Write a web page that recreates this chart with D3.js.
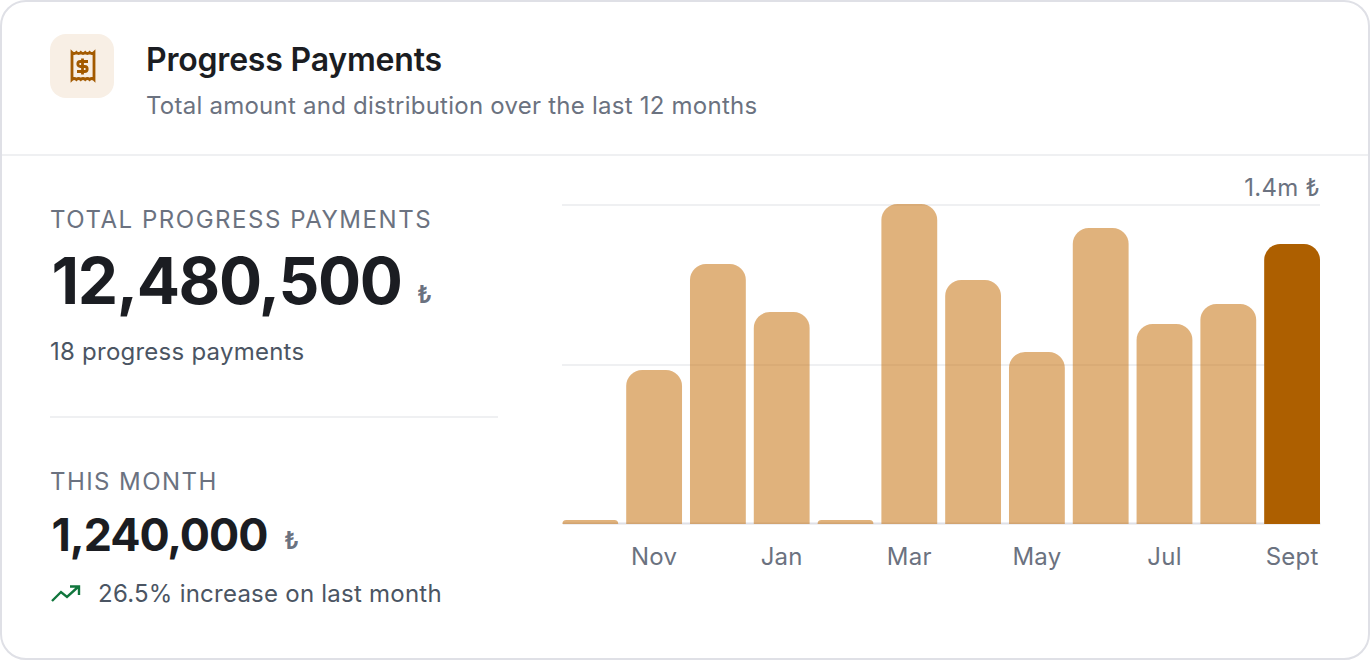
<!DOCTYPE html>
<html>
<head>
<meta charset="utf-8">
<script src="https://cdn.jsdelivr.net/npm/d3@7"></script>
<style>
  html, body { margin: 0; padding: 0; background: #fff; }
  svg { display: block; font-family: Inter, sans-serif; }
</style>
</head>
<body>
<svg id="chart" width="1370" height="660"></svg>
<script>
const months = ["Oct", "Nov", "Dec", "Jan", "Feb", "Mar", "Apr", "May", "Jun", "Jul", "Aug", "Sept"];
const amounts = [17000, 674000, 1137000, 927000, 17000, 1400000, 1067000, 752000, 1295000, 875000, 962000, 1225000];
const tickLabels = ["Nov", "Jan", "Mar", "May", "Jul", "Sept"];
const gridValues = [700000, 1400000];

const svg = d3.select("#chart");
const ink = "#1b1d22", gray = "#6b7280", slate = "#4b5563";
const brown = "#ad5f00", line = "#eff0f2";

// card
svg.append("rect")
  .attr("x", 1).attr("y", 1).attr("width", 1368).attr("height", 658).attr("rx", 25)
  .attr("fill", "#fff").attr("stroke", "#dfe0e6").attr("stroke-width", 2);
svg.append("line").attr("x1", 2).attr("x2", 1368).attr("y1", 155).attr("y2", 155).attr("stroke", line).attr("stroke-width", 2);
svg.append("line").attr("x1", 50).attr("x2", 498).attr("y1", 417).attr("y2", 417).attr("stroke", line).attr("stroke-width", 2);

function label(x, y, str, size, weight, color, spacing) {
  return svg.append("text").attr("x", x).attr("y", y).text(str)
    .attr("font-size", size).attr("font-weight", weight).attr("fill", color)
    .attr("letter-spacing", spacing || 0);
}

// header
svg.append("rect").attr("x", 50).attr("y", 34).attr("width", 64).attr("height", 64).attr("rx", 16).attr("fill", "#f8efe5");
const icon = svg.append("g").attr("transform", "translate(70.5,51)").attr("fill", "none").attr("stroke", "#a35a00").attr("stroke-width", 2.8);
icon.append("path").attr("d", "M1.5 1.5 q2.2 2 4.4 0 q2.2 2 4.4 0 q2.2 2 4.4 0 q2.2 2 4.4 0 q2.2 2 4.4 0 V28.5 q-2.2 -2 -4.4 0 q-2.2 -2 -4.4 0 q-2.2 -2 -4.4 0 q-2.2 -2 -4.4 0 q-2.2 -2 -4.4 0 Z");
icon.append("path").attr("d", "M17.5 10.5 H9.8 a2.4 2.4 0 0 0 0 5 H14.2 a2.4 2.4 0 0 1 0 5 H6.5 M12 7.5 V23.5");

label(146, 71, "Progress Payments", 32, 600, ink, -0.2);
label(146, 114, "Total amount and distribution over the last 12 months", 24, 400, gray, 0.24);

// left stats
label(50, 228, "TOTAL PROGRESS PAYMENTS", 24, 400, gray, 1.53);
label(51.5, 304, "12,480,500", 64, 700, ink, -1.36);
label(417, 303, "₺", 24, 600, gray);
label(50, 360, "18 progress payments", 24, 400, slate, 0.24);
label(50, 490, "THIS MONTH", 24, 400, gray, 1.44);
label(51.5, 551, "1,240,000", 44.8, 700, ink, -1.05);
label(284, 549, "₺", 24, 600, gray);
svg.append("path").attr("transform", "translate(51,585)")
  .attr("d", "M1 16 L10 7 L16 12 L27 2 M19 1.5 H28 V10")
  .attr("fill", "none").attr("stroke", "#11763d").attr("stroke-width", 2.4);
label(98, 602, "26.5% increase on last month", 24, 400, slate, 0.24);

// chart
const x = d3.scaleBand().domain(months).range([562.4, 1320]).paddingInner(0.125).paddingOuter(0);
const y = d3.scaleLinear().domain([0, 1400000]).range([524, 204]);

// the rules sit one pixel under the bar tops, like the reference
svg.append("g").selectAll("line").data(gridValues).join("line")
  .attr("x1", 562).attr("x2", 1320)
  .attr("y1", d => y(d) + 1).attr("y2", d => y(d) + 1)
  .attr("stroke", line).attr("stroke-width", 2);

function barPath(d, i) {
  const left = x(months[i]), w = x.bandwidth(), top = y(d), h = 524 - top;
  const r = Math.min(16, h);
  return `M${left} 524 V${top + r} A${r} ${r} 0 0 1 ${left + r} ${top} H${left + w - r} A${r} ${r} 0 0 1 ${left + w} ${top + r} V524 Z`;
}

const axis = d3.axisBottom(x)
  .tickValues(tickLabels)
  .tickSize(0)
  .tickPadding(24.5);
const axisG = svg.append("g").attr("transform", "translate(0,523)").call(axis);
axisG.select(".domain").attr("stroke", "#dfe0e6").attr("stroke-width", 2);
axisG.selectAll("text").attr("font-size", 24).attr("font-family", "Inter, sans-serif").attr("fill", gray).attr("letter-spacing", 0.24);

svg.append("g").selectAll("path").data(amounts).join("path")
  .attr("d", barPath)
  .attr("fill", (d, i) => i === amounts.length - 1 ? brown : "#c77311")
  .attr("fill-opacity", (d, i) => i === amounts.length - 1 ? 1 : 0.55);

label(1320, 196, "1.4m ₺", 24, 400, gray, 0.24).attr("text-anchor", "end");
</script>
</body>
</html>
